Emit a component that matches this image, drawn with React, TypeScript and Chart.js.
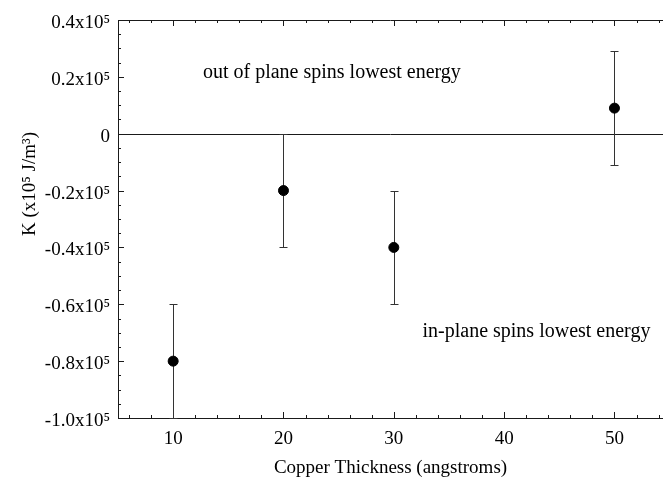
import React, { useEffect, useRef } from "react";
import { Chart, registerables } from "chart.js";

Chart.register(...registerables);

// ---- data ----
const thickness = [10, 20, 30, 50];
const kValues = [-0.8, -0.2, -0.4, 0.09];
const kErrors = [0.2, 0.2, 0.2, 0.2];
const xTickValues = [10, 20, 30, 40, 50];
const yTickValues = [-1.0, -0.8, -0.6, -0.4, -0.2, 0, 0.2, 0.4];
const xLimits = [5, 54.4];
const yLimits = [-1.0, 0.4];
const xMinorStep = 2;
const yMinorStep = 0.05;
const xTitle = "Copper Thickness (angstroms)";
const yTitle = "K (x10\u2075 J/m\u00B3)";
const noteTexts = ["out of plane spins lowest energy", "in-plane spins lowest energy"];
const noteX = [12.7, 32.6];
const noteY = [0.215, -0.695];

const FONT = "'Liberation Serif', 'Times New Roman', serif";
const INK = "#1a1a1a";

function fmtY(v: number): string {
  if (Math.abs(v) < 1e-9) return "0";
  return v.toFixed(1) + "x10\u2075";
}

const decorPlugin = {
  id: "decor",
  beforeDatasetsDraw(chart: any) {
    const { ctx, chartArea: ca, scales } = chart;
    const x = scales.x;
    const y = scales.y;
    ctx.save();
    ctx.strokeStyle = INK;
    ctx.lineWidth = 1;
    const seg = (x1: number, y1: number, x2: number, y2: number) => {
      ctx.beginPath();
      ctx.moveTo(x1, y1);
      ctx.lineTo(x2, y2);
      ctx.stroke();
    };
    // zero line
    const y0 = Math.round(y.getPixelForValue(0)) + 0.5;
    seg(ca.left, y0, ca.right, y0);
    // top border
    const yt = Math.round(ca.top) + 0.5;
    seg(ca.left, yt, ca.right, yt);
    // x ticks (inward), bottom and top
    const kx0 = Math.ceil(xLimits[0] / xMinorStep);
    const kx1 = Math.floor(xLimits[1] / xMinorStep);
    for (let k = kx0; k <= kx1; k++) {
      const v = k * xMinorStep;
      const major = Math.abs(v / 10 - Math.round(v / 10)) < 1e-9;
      const len = major ? 6 : 3;
      const px = Math.round(x.getPixelForValue(v)) + 0.5;
      seg(px, ca.bottom, px, ca.bottom - len);
      seg(px, ca.top, px, ca.top + len);
    }
    // y ticks (inward), left
    const ky0 = Math.round(yLimits[0] / yMinorStep);
    const ky1 = Math.round(yLimits[1] / yMinorStep);
    for (let k = ky0; k <= ky1; k++) {
      const v = k * yMinorStep;
      const major = k % 4 === 0;
      const len = major ? 6 : 3;
      const py = Math.round(y.getPixelForValue(v)) + 0.5;
      seg(ca.left, py, ca.left + len, py);
    }
    // error bars
    ctx.strokeStyle = "#333";
    for (let i = 0; i < thickness.length; i++) {
      const px = Math.round(x.getPixelForValue(thickness[i])) + 0.5;
      const top = Math.round(y.getPixelForValue(kValues[i] + kErrors[i])) + 0.5;
      const bot = Math.round(y.getPixelForValue(kValues[i] - kErrors[i])) + 0.5;
      seg(px, top, px, bot);
      seg(px - 4, top, px + 4, top);
      seg(px - 4, bot, px + 4, bot);
    }
    // notes
    ctx.fillStyle = "#000";
    ctx.font = "20px " + FONT;
    ctx.textAlign = "left";
    ctx.textBaseline = "middle";
    for (let i = 0; i < noteTexts.length; i++) {
      ctx.fillText(noteTexts[i], x.getPixelForValue(noteX[i]), y.getPixelForValue(noteY[i]));
    }
    // y title
    ctx.save();
    ctx.translate(30, 184);
    ctx.rotate(-Math.PI / 2);
    ctx.textAlign = "center";
    ctx.textBaseline = "middle";
    ctx.font = "19px " + FONT;
    ctx.fillText(yTitle, 0, 0);
    ctx.restore();
    ctx.restore();
  },
};

export default function App() {
  const ref = useRef<HTMLCanvasElement | null>(null);
  useEffect(() => {
    document.body.style.margin = "0";
    const canvas = ref.current;
    if (!canvas) return;
    Chart.defaults.font.family = FONT;
    Chart.defaults.color = "#000";
    const chart = new Chart(canvas, {
      type: "scatter",
      data: {
        datasets: [
          {
            data: thickness.map((t, i) => ({ x: t, y: kValues[i] })),
            backgroundColor: "#000",
            borderColor: "#000",
            pointRadius: 5,
            pointHoverRadius: 5,
            showLine: false,
          },
        ],
      },
      plugins: [decorPlugin],
      options: {
        animation: false,
        responsive: false,
        maintainAspectRatio: false,
        layout: { autoPadding: false, padding: { left: 0, top: 20, right: 0, bottom: 0 } },
        plugins: { legend: { display: false }, tooltip: { enabled: false } },
        scales: {
          x: {
            type: "linear",
            min: xLimits[0],
            max: xLimits[1],
            grid: { display: false, drawTicks: false },
            border: { display: true, color: INK, width: 1 },
            afterBuildTicks: (s: any) => {
              s.ticks = xTickValues.map((v) => ({ value: v }));
            },
            afterFit: (s: any) => {
              s.height = 72;
              s.paddingLeft = 0;
              s.paddingRight = 0;
            },
            ticks: {
              font: { size: 19, family: FONT },
              color: "#000",
              padding: 10,
              maxRotation: 0,
              callback: (v: any) => String(v),
            },
            title: {
              display: true,
              text: xTitle,
              font: { size: 19, family: FONT },
              color: "#000",
              padding: { top: 0, bottom: 11 },
            },
          },
          y: {
            type: "linear",
            min: yLimits[0],
            max: yLimits[1],
            grid: { display: false, drawTicks: false },
            border: { display: true, color: INK, width: 1 },
            afterBuildTicks: (s: any) => {
              s.ticks = yTickValues.map((v) => ({ value: v }));
            },
            afterFit: (s: any) => {
              s.width = 118;
            },
            ticks: {
              font: { size: 19, family: FONT },
              color: "#000",
              padding: 8,
              labelOffset: 3,
              callback: (v: any) => fmtY(Number(v)),
            },
          },
        },
      },
    } as any);
    return () => chart.destroy();
  }, []);
  return (
    <div style={{ position: "absolute", left: 0, top: 0, width: 663, height: 490 }}>
      <canvas ref={ref} width={663} height={490} style={{ display: "block" }} />
    </div>
  );
}
